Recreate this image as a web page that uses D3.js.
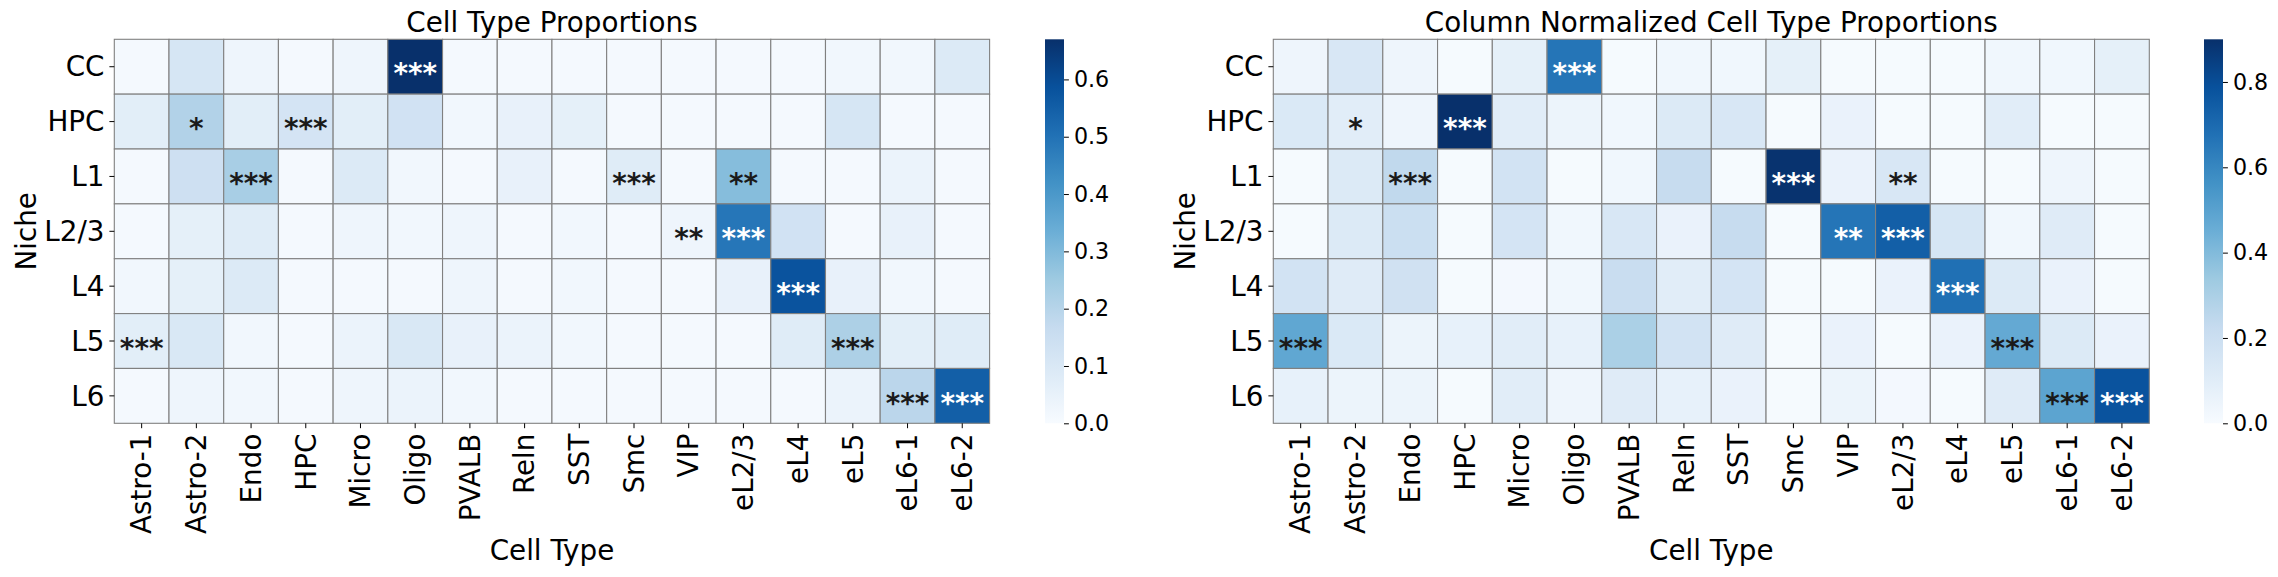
<!DOCTYPE html>
<html>
<head>
<meta charset="utf-8">
<script src="https://cdn.jsdelivr.net/npm/d3@7"></script>
<style>
  body { margin: 0; background: #fff; }
  text { font-family: "DejaVu Sans", sans-serif; }
</style>
</head>
<body>
<svg id="chart" width="2278" height="577"></svg>
<script>
// rows / columns of both heatmaps
const niches = ["CC", "HPC", "L1", "L2/3", "L4", "L5", "L6"];
const cellTypes = ["Astro-1", "Astro-2", "Endo", "HPC", "Micro", "Oligo", "PVALB", "Reln",
                   "SST", "Smc", "VIP", "eL2/3", "eL4", "eL5", "eL6-1", "eL6-2"];

// left panel: proportion of each cell type inside a niche
const proportions = [
  [0.01, 0.11, 0.03, 0.01, 0.03, 0.67, 0.01, 0.01, 0.01, 0.01, 0.01, 0.01, 0.01, 0.02, 0.02, 0.09],
  [0.07, 0.21, 0.07, 0.12, 0.07, 0.13, 0.02, 0.05, 0.06, 0.01, 0.01, 0.01, 0.01, 0.11, 0.01, 0.01],
  [0.01, 0.14, 0.23, 0.01, 0.09, 0.02, 0.01, 0.05, 0.01, 0.08, 0.01, 0.29, 0.01, 0.01, 0.04, 0.01],
  [0.01, 0.06, 0.08, 0.01, 0.03, 0.02, 0.03, 0.01, 0.02, 0.01, 0.03, 0.49, 0.13, 0.01, 0.05, 0.01],
  [0.02, 0.06, 0.09, 0.01, 0.01, 0.01, 0.03, 0.01, 0.02, 0.01, 0.01, 0.05, 0.58, 0.05, 0.02, 0.01],
  [0.07, 0.10, 0.02, 0.01, 0.04, 0.10, 0.05, 0.04, 0.02, 0.01, 0.01, 0.01, 0.08, 0.22, 0.07, 0.08],
  [0.01, 0.03, 0.02, 0.01, 0.03, 0.04, 0.02, 0.01, 0.01, 0.01, 0.01, 0.01, 0.01, 0.04, 0.19, 0.55]
];

// right panel: same table normalised per column
const columnNormalized = [
  [0.04, 0.14, 0.04, 0.01, 0.08, 0.66, 0.01, 0.03, 0.03, 0.08, 0.01, 0.01, 0.01, 0.03, 0.03, 0.08],
  [0.13, 0.10, 0.04, 0.90, 0.10, 0.05, 0.03, 0.12, 0.14, 0.01, 0.06, 0.01, 0.01, 0.10, 0.01, 0.01],
  [0.01, 0.12, 0.24, 0.01, 0.17, 0.01, 0.03, 0.22, 0.01, 0.89, 0.06, 0.14, 0.01, 0.01, 0.04, 0.01],
  [0.01, 0.12, 0.20, 0.01, 0.16, 0.03, 0.14, 0.06, 0.22, 0.01, 0.66, 0.74, 0.15, 0.03, 0.11, 0.01],
  [0.17, 0.11, 0.18, 0.01, 0.02, 0.03, 0.21, 0.10, 0.16, 0.01, 0.01, 0.06, 0.68, 0.12, 0.06, 0.01],
  [0.48, 0.13, 0.05, 0.07, 0.10, 0.07, 0.30, 0.17, 0.11, 0.01, 0.06, 0.01, 0.06, 0.47, 0.12, 0.06],
  [0.07, 0.05, 0.05, 0.01, 0.10, 0.04, 0.11, 0.07, 0.06, 0.01, 0.05, 0.02, 0.01, 0.11, 0.49, 0.78]
];

// significance stars, same cells in both panels
const significance = [
  { niche: "CC",   cellType: "Oligo", stars: "***" },
  { niche: "HPC",  cellType: "Astro-2", stars: "*" },
  { niche: "HPC",  cellType: "HPC", stars: "***" },
  { niche: "L1",   cellType: "Endo", stars: "***" },
  { niche: "L1",   cellType: "Smc", stars: "***" },
  { niche: "L1",   cellType: "eL2/3", stars: "**" },
  { niche: "L2/3", cellType: "VIP", stars: "**" },
  { niche: "L2/3", cellType: "eL2/3", stars: "***" },
  { niche: "L4",   cellType: "eL4", stars: "***" },
  { niche: "L5",   cellType: "Astro-1", stars: "***" },
  { niche: "L5",   cellType: "eL5", stars: "***" },
  { niche: "L6",   cellType: "eL6-1", stars: "***" },
  { niche: "L6",   cellType: "eL6-2", stars: "***" }
];

const leftTicks = [0.0, 0.1, 0.2, 0.3, 0.4, 0.5, 0.6];
const rightTicks = [0.0, 0.2, 0.4, 0.6, 0.8];

// matplotlib "Blues" (colorbrewer, linear between stops)
const blues = ["#f7fbff", "#deebf7", "#c6dbef", "#9ecae1", "#6baed6",
               "#4292c6", "#2171b5", "#08519c", "#08306b"];

const svg = d3.select("#chart");
const plotTop = 39.3, plotBottom = 423.3;
const tickLen = 4.9;
const labelSize = "27.8px";

function drawPanel(opt) {
  const g = svg.append("g");
  const x = d3.scaleBand().domain(cellTypes).range([opt.left, opt.right]);
  const y = d3.scaleBand().domain(niches).range([plotTop, plotBottom]);
  const vmax = d3.max(opt.values.flat());
  const color = d3.scaleLinear()
    .domain(blues.map((_, i) => vmax * i / (blues.length - 1)))
    .range(blues)
    .clamp(true);

  const cells = niches.flatMap((n, i) =>
    cellTypes.map((c, j) => ({ niche: n, cellType: c, value: opt.values[i][j] })));

  g.selectAll("rect.cell")
    .data(cells)
    .join("rect")
    .attr("class", "cell")
    .attr("x", d => x(d.cellType))
    .attr("y", d => y(d.niche))
    .attr("width", x.bandwidth())
    .attr("height", y.bandwidth())
    .attr("fill", d => color(d.value))
    .attr("stroke", "#808080")
    .attr("stroke-width", 1.1);

  // stars go white only on the dark cells
  const valueAt = d => opt.values[niches.indexOf(d.niche)][cellTypes.indexOf(d.cellType)];
  g.selectAll("text.sig")
    .data(significance)
    .join("text")
    .attr("class", "sig")
    .attr("x", d => x(d.cellType) + x.bandwidth() / 2)
    .attr("y", d => y(d.niche) + y.bandwidth() / 2)
    .attr("dy", "0.6em")
    .attr("text-anchor", "middle")
    .style("font-size", labelSize)
    .style("font-weight", "bold")
    .attr("fill", d => valueAt(d) / vmax > 0.6 ? "#ffffff" : "#1a1a1a")
    .text(d => d.stars);

  // axes
  const xAxis = g.append("g")
    .attr("transform", `translate(0,${plotBottom})`)
    .call(d3.axisBottom(x).tickSize(tickLen).tickPadding(tickLen));
  xAxis.select(".domain").remove();
  xAxis.selectAll(".tick line").attr("stroke", "#000");
  xAxis.selectAll(".tick text")
    .attr("fill", "#000")
    .style("font-size", labelSize)
    .attr("transform", "rotate(-90)")
    .attr("text-anchor", "end")
    .attr("x", -(tickLen * 2 + 0.5))
    .attr("y", 0)
    .attr("dy", "0.35em");

  const yAxis = g.append("g")
    .attr("transform", `translate(${opt.left},0)`)
    .call(d3.axisLeft(y).tickSize(tickLen).tickPadding(tickLen));
  yAxis.select(".domain").remove();
  yAxis.selectAll(".tick line").attr("stroke", "#000");
  yAxis.selectAll(".tick text")
    .attr("fill", "#000")
    .style("font-size", labelSize)
    .attr("dy", "0.35em");

  // titles and labels
  const cx = (opt.left + opt.right) / 2;
  g.append("text")
    .attr("x", cx).attr("y", 32)
    .attr("text-anchor", "middle")
    .style("font-size", labelSize)
    .text(opt.title);

  g.append("text")
    .attr("x", cx).attr("y", 560)
    .attr("text-anchor", "middle")
    .style("font-size", labelSize)
    .text("Cell Type");

  g.append("text")
    .attr("transform", `translate(${opt.nicheX},${(plotTop + plotBottom) / 2}) rotate(-90)`)
    .attr("text-anchor", "middle")
    .style("font-size", labelSize)
    .text("Niche");

  // colorbar
  const gradId = "grad-" + opt.id;
  const grad = svg.append("defs").append("linearGradient")
    .attr("id", gradId)
    .attr("x1", 0).attr("y1", 1).attr("x2", 0).attr("y2", 0);
  grad.selectAll("stop")
    .data(color.domain())
    .join("stop")
    .attr("offset", d => d / vmax)
    .attr("stop-color", d => color(d));

  const cbar = d3.scaleLinear().domain([0, vmax]).range([plotBottom, plotTop]);
  g.append("rect")
    .attr("x", opt.cbLeft).attr("y", plotTop)
    .attr("width", opt.cbWidth).attr("height", plotBottom - plotTop)
    .attr("fill", `url(#${gradId})`);

  const cAxis = g.append("g")
    .attr("transform", `translate(${opt.cbLeft + opt.cbWidth},0)`)
    .call(d3.axisRight(cbar).tickValues(opt.ticks).tickFormat(d3.format(".1f"))
      .tickSize(tickLen).tickPadding(5));
  cAxis.select(".domain").remove();
  cAxis.selectAll(".tick line").attr("stroke", "#000");
  cAxis.selectAll(".tick text")
    .attr("fill", "#000")
    .style("font-size", "22.2px");
}

drawPanel({
  id: "left", title: "Cell Type Proportions", values: proportions, ticks: leftTicks,
  left: 114.3, right: 989.6, nicheX: 36, cbLeft: 1045, cbWidth: 19
});
drawPanel({
  id: "right", title: "Column Normalized Cell Type Proportions", values: columnNormalized, ticks: rightTicks,
  left: 1273.3, right: 2149.3, nicheX: 1195, cbLeft: 2204, cbWidth: 19
});
</script>
</body>
</html>
